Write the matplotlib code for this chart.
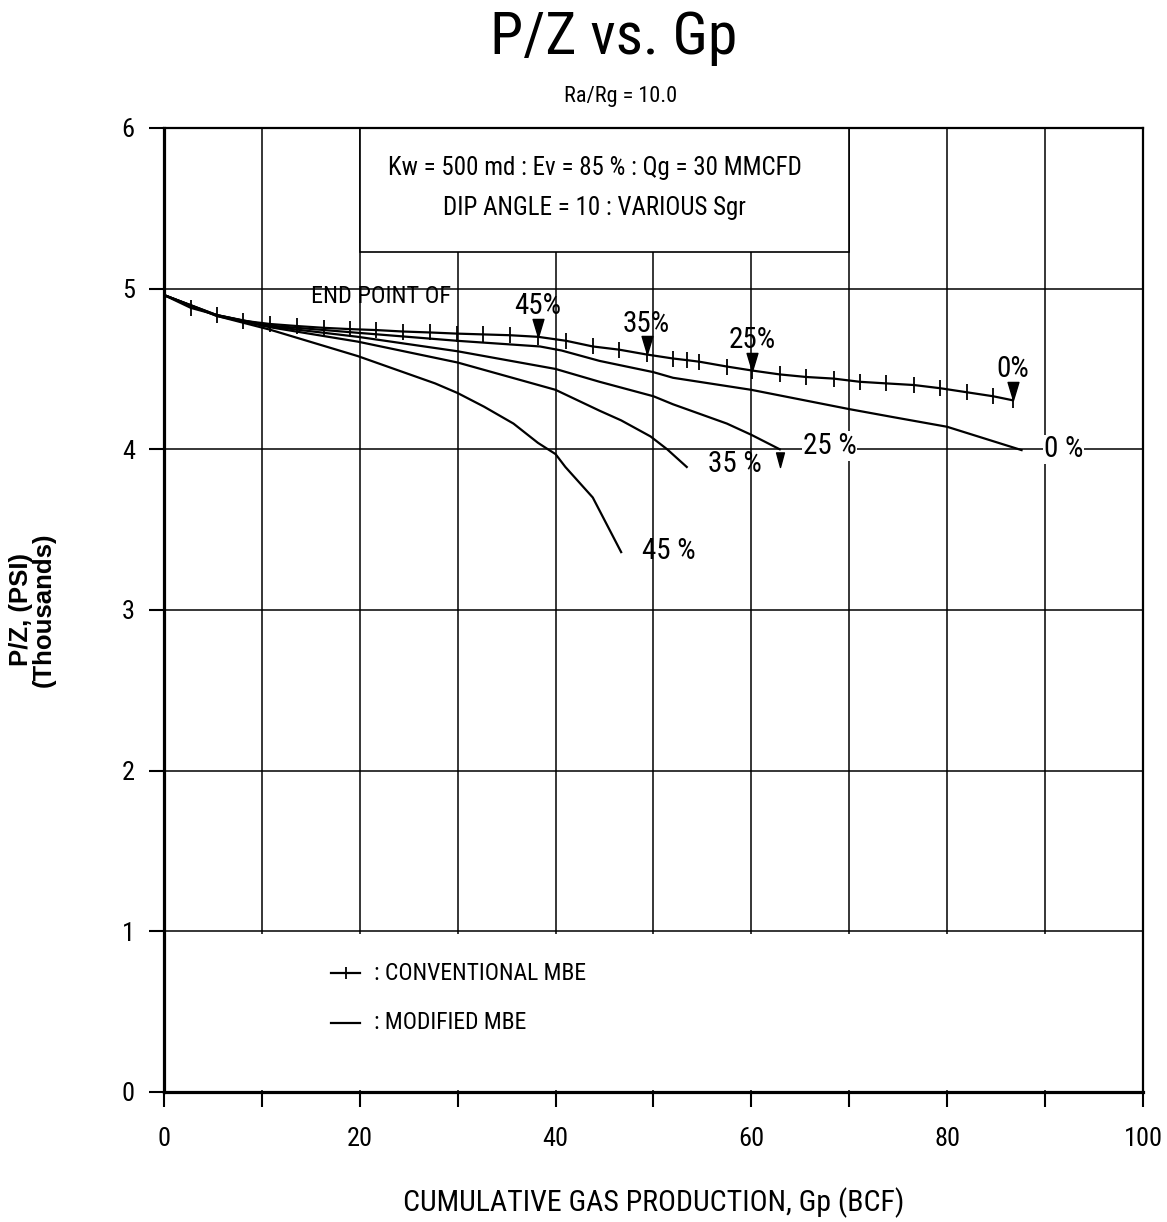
import matplotlib
matplotlib.use('Agg')
import matplotlib.pyplot as plt
import numpy as np
from matplotlib.path import Path
from matplotlib.patches import Rectangle

plt.rcParams['font.family'] = ['Liberation Sans Narrow', 'Roboto Condensed', 'DejaVu Sans']
plt.rcParams['font.stretch'] = 'condensed'

# conventional MBE (line with tick marks)
conv_x = [0, 2.75, 5.45, 8.1, 10.8, 13.6, 16.3, 19.0, 21.7, 24.4, 27.2, 29.9,
          32.6, 35.3, 38.2, 41.1, 43.8, 46.5, 49.3, 52.0, 53.4, 54.7, 57.5,
          60.1, 62.9, 65.6, 68.4, 71.1, 73.8, 76.6, 79.3, 82.0, 84.7, 86.7]
conv_y = [4.96, 4.88, 4.835, 4.80, 4.78, 4.767, 4.756, 4.748, 4.742, 4.733, 4.727, 4.72,
          4.715, 4.71, 4.70, 4.675, 4.64, 4.62, 4.59, 4.565, 4.555, 4.545, 4.515,
          4.49, 4.466, 4.45, 4.44, 4.42, 4.41, 4.40, 4.38, 4.355, 4.33, 4.305]

# modified MBE, one curve per Sgr
mod0_x = [0, 5.4, 10.8, 19.8, 30, 38.4, 40.6, 44.5, 50, 52, 60, 70, 74.5, 80, 87.6]
mod0_y = [4.96, 4.835, 4.77, 4.725, 4.675, 4.64, 4.615, 4.55, 4.48, 4.445, 4.37, 4.25, 4.20, 4.14, 3.995]
mod25_x = [0, 5.4, 10.8, 19.8, 30, 40, 44.5, 50, 52, 57.5, 60, 62.9]
mod25_y = [4.96, 4.835, 4.765, 4.70, 4.61, 4.50, 4.42, 4.33, 4.28, 4.16, 4.09, 4.0]
mod35_x = [0, 5.4, 10.8, 19.8, 30, 40, 44.5, 46.7, 49.7, 51.4, 53.4]
mod35_y = [4.96, 4.83, 4.76, 4.67, 4.54, 4.37, 4.24, 4.18, 4.08, 4.0, 3.89]
mod45_x = [0, 5.4, 10.8, 19.8, 27.7, 30, 32.7, 35.7, 38.2, 40, 41.0, 43.8, 46.7]
mod45_y = [4.96, 4.83, 4.745, 4.58, 4.41, 4.35, 4.265, 4.16, 4.04, 3.97, 3.89, 3.70, 3.36]

# end points on conventional line
end_x = [38.2, 49.3, 60.1, 86.7]
end_labels = ['45%', '35%', '25%', '0%']

fig = plt.figure(figsize=(11.67, 12.22), dpi=100)
ax = fig.add_axes([0.1405, 0.1064, 0.8389, 0.7889])

ax.set_xlim(0, 100)
ax.set_ylim(0, 6)
ax.set_xticks(np.arange(0, 101, 10))
ax.set_xticklabels([str(v) if v % 20 == 0 else '' for v in range(0, 101, 10)])
ax.set_yticks(range(0, 7))
ax.tick_params(axis='both', direction='out', length=11, width=1.5, labelsize=19, colors='black')
ax.tick_params(axis='x', pad=14)
ax.tick_params(axis='y', pad=10)
ax.set_axisbelow(True)
ax.grid(True, color='black', linewidth=1.1)
for s in ['left', 'bottom']:
    ax.spines[s].set_linewidth(2.3)
for s in ['top', 'right']:
    ax.spines[s].set_linewidth(1.6)

# white boxes that blank the grid (info box at top, legend band at bottom)
ax.add_patch(Rectangle((20, 5.23), 50, 0.77, facecolor='white', edgecolor='black', linewidth=1.2, zorder=1))
ax.add_patch(Rectangle((0.2, 0.01), 99.6, 0.975, facecolor='white', edgecolor='none', zorder=1))
ax.text(44, 5.75, 'Kw = 500 md : Ev = 85 % : Qg = 30 MMCFD', fontsize=18, ha='center', va='center', zorder=3)
ax.text(44, 5.50, 'DIP ANGLE = 10 : VARIOUS Sgr', fontsize=18, ha='center', va='center', zorder=3)

# curves
lw = 1.6
ax.plot(conv_x, conv_y, color='black', lw=lw, marker='|', markersize=11,
        markeredgewidth=1.3, markevery=slice(1, None), zorder=3)
for xs, ys in [(mod0_x, mod0_y), (mod25_x, mod25_y), (mod35_x, mod35_y), (mod45_x, mod45_y)]:
    ax.plot(xs, ys, color='black', lw=lw, zorder=3)

# end point triangles (tip on the line)
tri = Path([(-0.3, 1.0), (0.3, 1.0), (0.0, 0.0), (-0.3, 1.0)],
           [Path.MOVETO, Path.LINETO, Path.LINETO, Path.CLOSEPOLY])
end_y = np.interp(end_x, conv_x, conv_y)
ax.plot(end_x, end_y, linestyle='none', marker=tri, markersize=26, color='black', zorder=4)
for ex, ey, lab in zip(end_x, end_y, end_labels):
    ax.annotate(lab, xy=(ex, ey), xytext=(0, 16.5), textcoords='offset points',
                ha='center', va='baseline', fontsize=21, zorder=4)
ax.text(22.2, 4.95, 'END POINT OF', fontsize=17.5, ha='center', va='center', zorder=4)

# small triangle under the 25 % modified end
tri_small = Path([(-0.27, 1.0), (0.27, 1.0), (0.0, 0.0), (-0.27, 1.0)],
                 [Path.MOVETO, Path.LINETO, Path.LINETO, Path.CLOSEPOLY])
ax.plot([mod25_x[-1]], [mod25_y[-1] - 0.11], linestyle='none', marker=tri_small,
        markersize=21, color='black', zorder=4)

# modified curve labels
ax.text(51.6, 3.37, '45 %', fontsize=21, ha='center', va='center', zorder=4)
ax.text(58.3, 3.91, '35 %', fontsize=21, ha='center', va='center', zorder=4)
ax.text(68.0, 4.02, '25 %', fontsize=21, ha='center', va='center', zorder=4,
        bbox=dict(facecolor='white', edgecolor='none', pad=0.5))
ax.text(91.9, 4.00, '0 %', fontsize=21, ha='center', va='center', zorder=4,
        bbox=dict(facecolor='white', edgecolor='none', pad=0.5))

# legend drawn by hand
ax.plot([17.1, 20.0], [0.74, 0.74], color='black', lw=1.6, zorder=3)
ax.plot([18.55], [0.74], marker='|', markersize=9, markeredgewidth=1.3, color='black', zorder=3)
ax.text(21.45, 0.74, ': CONVENTIONAL MBE', fontsize=17, ha='left', va='center', zorder=3)
ax.plot([17.1, 20.0], [0.43, 0.43], color='black', lw=1.6, zorder=3)
ax.text(21.45, 0.43, ': MODIFIED MBE', fontsize=17, ha='left', va='center', zorder=3)

ax.set_xlabel('CUMULATIVE GAS PRODUCTION, Gp (BCF)', fontsize=21.5, labelpad=26)

fig.text(0.526, 0.969, 'P/Z vs. Gp', fontsize=43, ha='center', va='center')
fig.text(0.532, 0.921, 'Ra/Rg = 10.0', fontsize=16, ha='center', va='center')
fig.text(0.028, 0.501, 'P/Z, (PSI)\n(Thousands)', rotation=90, fontsize=18.5,
         fontweight='bold', family=['Liberation Sans', 'DejaVu Sans'], fontstretch='normal',
         ha='center', va='center', multialignment='center', linespacing=0.95)

fig.savefig('out.png', dpi=100)
